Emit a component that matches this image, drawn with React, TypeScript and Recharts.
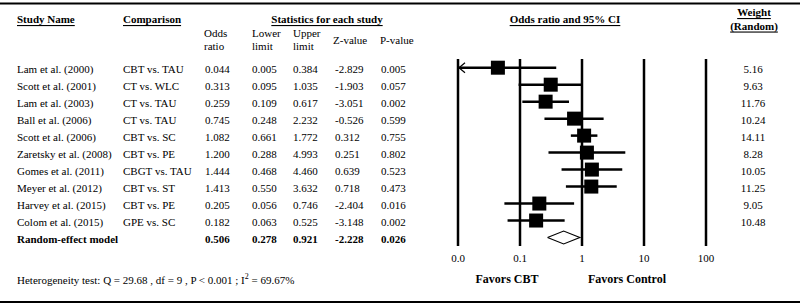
import { ComposedChart, XAxis, YAxis, Scatter, Line, ReferenceLine } from "recharts"

const studies = [
    "Lam et al. (2000)",
    "Scott et al. (2001)",
    "Lam et al. (2003)",
    "Ball et al. (2006)",
    "Scott et al. (2006)",
    "Zaretsky et al. (2008)",
    "Gomes et al. (2011)",
    "Meyer et al. (2012)",
    "Harvey et al. (2015)",
    "Colom et al. (2015)",
]
const comparisons = [
    "CBT vs. TAU",
    "CT vs. WLC",
    "CT vs. TAU",
    "CT vs. TAU",
    "CBT vs. SC",
    "CBT vs. PE",
    "CBGT vs. TAU",
    "CBT vs. ST",
    "CBT vs. PE",
    "GPE vs. SC",
]
const oddsRatio = [0.044, 0.313, 0.259, 0.745, 1.082, 1.2, 1.444, 1.413, 0.205, 0.182]
const lowerLimit = [0.005, 0.095, 0.109, 0.248, 0.661, 0.288, 0.468, 0.55, 0.056, 0.063]
const upperLimit = [0.384, 1.035, 0.617, 2.232, 1.772, 4.993, 4.46, 3.632, 0.746, 0.525]
const zValue = [-2.829, -1.903, -3.051, -0.526, 0.312, 0.251, 0.639, 0.718, -2.404, -3.148]
const pValue = [0.005, 0.057, 0.002, 0.599, 0.755, 0.802, 0.523, 0.473, 0.016, 0.002]
const weights = [5.16, 9.63, 11.76, 10.24, 14.11, 8.28, 10.05, 11.25, 9.05, 10.48]

const pooledLabel = "Random-effect model"
const pooled = [0.506, 0.278, 0.921, -2.228, 0.026] // OR, lower, upper, Z, P

const xTicks = [0.01, 0.1, 1, 10, 100]
const xTickLabels = ["0.0", "0.1", "1", "10", "100"]

const W = 800
const H = 306
const ROW0 = 67.7
const ROWH = 16.98
const FONT = "'Liberation Serif', 'Times New Roman', serif"
const X_MIN = xTicks[0]

const rowY = (i: number) => ROW0 + ROWH * i

const squares = oddsRatio.map((v, i) => ({ x: v, y: i, w: weights[i] }))
const pooledRow = studies.length
const diamond = [
    { x: pooled[1], y: pooledRow },
    { x: pooled[0], y: pooledRow - 0.38 },
    { x: pooled[2], y: pooledRow },
    { x: pooled[0], y: pooledRow + 0.38 },
    { x: pooled[1], y: pooledRow },
]

const Square = (props: any) => {
    const { cx, cy } = props
    const s = 14
    return <rect x={cx - s / 2} y={cy - s / 2} width={s} height={s} fill="#000" />
}

const ArrowLine = (props: any) => {
    const { x1, y1, x2, y2 } = props
    return (
        <g>
            <line x1={x1} y1={y1} x2={x2} y2={y2} stroke="#000" strokeWidth={2.5} />
            <path d={`M${x1 + 7},${y1 - 5} L${x1 + 1},${y1} L${x1 + 7},${y1 + 5}`} fill="none" stroke="#000" strokeWidth={1.2} />
        </g>
    )
}

const cols = [205, 252, 293, 335, 381]

const Table = () => {
    const t = { fontFamily: FONT, fontSize: 11, fill: "#000" }
    const b = { ...t, fontWeight: "bold" as const }
    const u = { ...b, textDecoration: "underline" }
    return (
        <svg width={W} height={H} style={{ position: "absolute", left: 0, top: 0, pointerEvents: "none" }}>
            <rect x={0} y={2.5} width={W} height={2} fill="#000" />
            <rect x={0} y={301} width={W} height={2} fill="#000" />

            <text x={17} y={19} dominantBaseline="central" style={u}>Study Name</text>
            <text x={123} y={19} dominantBaseline="central" style={u}>Comparison</text>
            <text x={327} y={19} dominantBaseline="central" textAnchor="middle" style={u}>Statistics for each study</text>
            <text x={565} y={19} dominantBaseline="central" textAnchor="middle" style={u}>Odds  ratio and 95% CI</text>
            <text x={754} y={12} dominantBaseline="central" textAnchor="middle" style={u}>Weight</text>
            <text x={754} y={25.5} dominantBaseline="central" textAnchor="middle" style={u}>(Random)</text>

            <text x={204} y={33} dominantBaseline="central" style={t}>Odds</text>
            <text x={204} y={46} dominantBaseline="central" style={t}>ratio</text>
            <text x={252} y={33} dominantBaseline="central" style={t}>Lower</text>
            <text x={252} y={46} dominantBaseline="central" style={t}>limit</text>
            <text x={293} y={33} dominantBaseline="central" style={t}>Upper</text>
            <text x={293} y={46} dominantBaseline="central" style={t}>limit</text>
            <text x={333} y={40} dominantBaseline="central" style={t}>Z-value</text>
            <text x={380} y={40} dominantBaseline="central" style={t}>P-value</text>

            {studies.map((s, i) => {
                const y = rowY(i) + 1
                const vals = [oddsRatio[i], lowerLimit[i], upperLimit[i], zValue[i], pValue[i]]
                return (
                    <g key={s}>
                        <text x={17} y={y} dominantBaseline="central" style={t}>{s}</text>
                        <text x={123} y={y} dominantBaseline="central" style={t}>{comparisons[i]}</text>
                        {vals.map((v, j) => (
                            <text key={j} x={cols[j]} y={y} dominantBaseline="central" style={t}>{v.toFixed(3)}</text>
                        ))}
                        <text x={753} y={y} dominantBaseline="central" textAnchor="middle" style={t}>{weights[i].toFixed(2)}</text>
                    </g>
                )
            })}
            <text x={17} y={rowY(pooledRow) + 1} dominantBaseline="central" style={b}>{pooledLabel}</text>
            {pooled.map((v, j) => (
                <text key={j} x={cols[j]} y={rowY(pooledRow) + 1} dominantBaseline="central" style={b}>{v.toFixed(3)}</text>
            ))}

            <text x={17} y={280} dominantBaseline="central" style={t}>
                Heterogeneity test: Q = 29.68 , df = 9 , P &lt; 0.001 ; I<tspan dy={-4} fontSize={8}>2</tspan><tspan dy={4}> = 69.67%</tspan>
            </text>

            <text x={507} y={279} dominantBaseline="central" textAnchor="middle" style={{ ...b, fontSize: 12 }}>Favors CBT</text>
            <text x={627} y={279} dominantBaseline="central" textAnchor="middle" style={{ ...b, fontSize: 12 }}>Favors Control</text>
        </svg>
    )
}

export default function App() {
    return (
        <div style={{ position: "absolute", left: 0, top: 0, width: W, height: H, background: "#fff" }}>
            <ComposedChart width={W} height={H} margin={{ top: 59, right: 94, left: 458, bottom: 30 }}>
                <XAxis
                    dataKey="x"
                    type="number"
                    scale="log"
                    domain={[xTicks[0], xTicks[xTicks.length - 1]]}
                    ticks={xTicks}
                    tickFormatter={(v: number) => xTickLabels[xTicks.indexOf(v)] ?? String(v)}
                    axisLine={false}
                    tickLine={false}
                    allowDataOverflow
                    height={30}
                    tick={{ fill: "#000", fontSize: 11, fontFamily: FONT }}
                />
                <YAxis dataKey="y" type="number" domain={[-0.512, 10.5]} reversed hide allowDataOverflow />
                {xTicks.map((v) => (
                    <ReferenceLine key={v} x={v} stroke="#000" strokeWidth={2.5} />
                ))}
                {studies.map((s, i) => {
                    const lo = Math.max(lowerLimit[i], X_MIN)
                    const clipped = lowerLimit[i] < X_MIN
                    return (
                        <ReferenceLine
                            key={s}
                            segment={[{ x: lo, y: i }, { x: upperLimit[i], y: i }]}
                            stroke="#000"
                            strokeWidth={2.5}
                            shape={clipped ? ArrowLine : undefined}
                        />
                    )
                })}
                <Scatter data={squares} fill="#000" shape={Square} isAnimationActive={false} />
                <Line
                    data={diamond}
                    dataKey="y"
                    type="linear"
                    stroke="#000"
                    strokeWidth={1.2}
                    fill="#fff"
                    dot={false}
                    activeDot={false}
                    isAnimationActive={false}
                />
            </ComposedChart>
            <Table />
        </div>
    )
}
